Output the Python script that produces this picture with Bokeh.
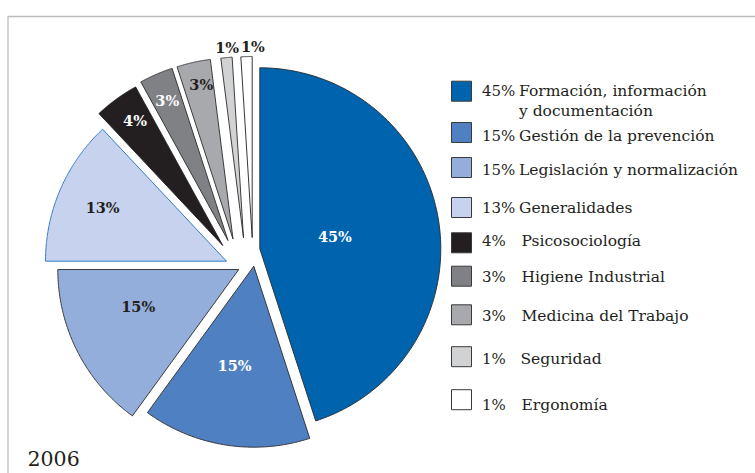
import numpy as np
from bokeh.plotting import figure
from bokeh.models import Range1d, BoxAnnotation
from bokeh.core.properties import value
from bokeh.embed import file_html
from bokeh.resources import INLINE

# ---------------- data ----------------
pcts = [45, 15, 15, 13, 4, 3, 3, 1, 1]
names = ["Formación, información\ny documentación", "Gestión de la prevención",
         "Legislación y normalización", "Generalidades", "Psicosociología",
         "Higiene Industrial", "Medicina del Trabajo", "Seguridad", "Ergonomía"]
year = "2006"

# ---------------- style ----------------
colors = ["#0063ae", "#4f81c2", "#93aedb", "#c7d3ee", "#231f20",
          "#808184", "#a8a9ad", "#d1d2d4", "#ffffff"]
edge_colors = ["#2a2a2a", "#2a2a2a", "#2a2a2a", "#1f6fc0", "#231f20",
               "#2a2a2a", "#2a2a2a", "#2a2a2a", "#231f20"]
label_colors = ["white", "white", "#231f20", "#231f20", "white",
                "white", "#231f20", "#231f20", "#231f20"]
# explode offsets of each slice (pixels) and label placement
explode_dx = [17.3, 11.3, -3.7, -16.0, -19.7, -14.5, -9.5, 1.0, 9.7]
explode_dy = [-3.7, 13.7, 17.0, 8.7, -7.0, -12.0, -13.5, -14.7, -15.0]
label_r = [76, 101, 107, 135, 153, 153, 158, 191, 191]
label_tweak = [0, 2, 7, 0, 1, 0, 1, 0.5, 2]
cx, cy, R = 242, 252, 181

sq_y = [90.7, 132, 167, 207, 242.3, 275.7, 314.3, 356.2, 399.2]
txt_y = [90.7, 135.7, 169, 207.3, 240.7, 276, 315.7, 358.3, 404]
name_xs = [518.5, 518.5, 518.5, 518.5, 521, 521, 521, 520, 521]
sq_x, pct_x = 461, 481.5
line_gap = 20

SERIF = "DejaVu Serif"
W, H = 755, 473

p = figure(width=W, height=H, output_backend="svg", toolbar_location=None,
           x_range=Range1d(0, W), y_range=Range1d(H, 0), min_border=0)
p.axis.visible = False
p.grid.visible = False
p.outline_line_color = None
p.background_fill_color = "white"

# frame
p.add_layout(BoxAnnotation(left=7.5, right=2000, top=16, bottom=2000,
                           fill_alpha=0, line_color="#231f20", line_width=1.3))

# ---------------- slices ----------------
vals = np.array(pcts, dtype=float)
ends = np.cumsum(vals) / vals.sum() * 360.0
starts = np.concatenate([[0.0], ends[:-1]])
xs, ys, lx, ly = [], [], [], []
for i in range(len(vals)):
    ax0 = cx + explode_dx[i]
    ay0 = cy + explode_dy[i]
    th = np.radians(np.linspace(starts[i], ends[i], 120))
    px = np.concatenate([[ax0], ax0 + R * np.sin(th)])
    py = np.concatenate([[ay0], ay0 - R * np.cos(th)])
    xs.append(px.tolist())
    ys.append(py.tolist())
    mid = np.radians((starts[i] + ends[i]) / 2 + label_tweak[i])
    lx.append(ax0 + label_r[i] * np.sin(mid))
    ly.append(ay0 - label_r[i] * np.cos(mid))

p.patches(xs=xs, ys=ys, fill_color=colors, line_color=edge_colors, line_width=0.9)

p.text(x=lx, y=ly, text=[f"{v}%" for v in pcts], text_color=label_colors,
       text_font=value(SERIF), text_font_style="bold", text_font_size="14.5px",
       text_align="center", text_baseline="middle")

# ---------------- legend ----------------
p.rect(x=[sq_x] * len(pcts), y=sq_y, width=20, height=20, fill_color=colors,
       line_color="#3a3a3a", line_width=1)
p.text(x=[pct_x] * len(pcts), y=txt_y, text=[f"{v}%" for v in pcts],
       text_color="#231f20", text_font=value(SERIF), text_font_size="15px",
       text_align="left", text_baseline="middle")
nx, ny, nt = [], [], []
for i, nm in enumerate(names):
    for k, ln in enumerate(nm.split("\n")):
        nx.append(name_xs[i])
        ny.append(txt_y[i] + k * line_gap)
        nt.append(ln)
p.text(x=nx, y=ny, text=nt, text_color="#231f20", text_font=value(SERIF),
       text_font_size="15.5px", text_align="left", text_baseline="middle")

p.text(x=[27], y=[458], text=[year], text_color="#231f20", text_font=value(SERIF),
       text_font_size="20.5px", text_align="left", text_baseline="middle")

open("out.html", "w").write(file_html(p, INLINE))
